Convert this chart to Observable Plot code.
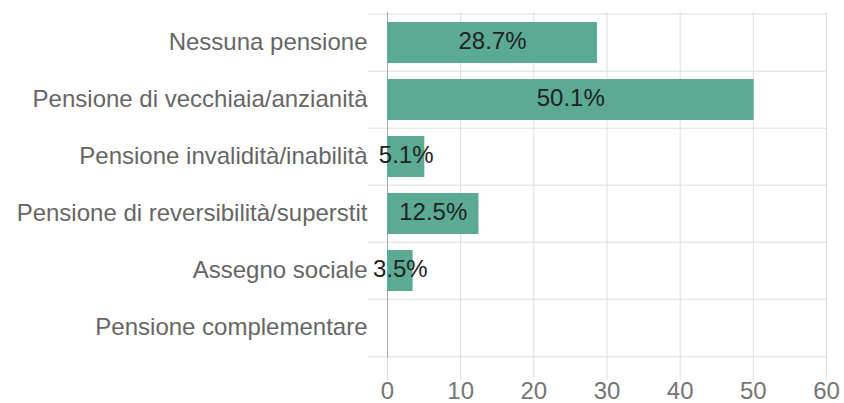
<!DOCTYPE html>
<html>
<head>
<meta charset="utf-8">
<script src="https://cdn.jsdelivr.net/npm/d3@7"></script>
<script src="https://cdn.jsdelivr.net/npm/@observablehq/plot@0.6"></script>
<style>
  html, body { margin: 0; padding: 0; background: #fff; }
</style>
</head>
<body>
<div id="chart"></div>
<script>
const categories = [
  "Nessuna pensione",
  "Pensione di vecchiaia/anzianità",
  "Pensione invalidità/inabilità",
  "Pensione di reversibilità/superstit",
  "Assegno sociale",
  "Pensione complementare"
];
const values = [28.7, 50.1, 5.1, 12.5, 3.5, 0];
const xTicks = [0, 10, 20, 30, 40, 50, 60];

const data = categories.map((c, i) => ({category: c, value: values[i]}));

const W = 844, H = 403;
const mTop = 12, mBottom = 45, mLeft = 387, mRight = 18;
const step = (H - mTop - mBottom) / categories.length;
const gridColor = "#dedede";

const chart = Plot.plot({
  width: W,
  height: H,
  marginTop: mTop,
  marginBottom: mBottom,
  marginLeft: mLeft,
  marginRight: mRight,
  style: {fontFamily: "'Liberation Sans', Arial, sans-serif", background: "#fff"},
  x: {domain: [0, 60], ticks: xTicks},
  y: {domain: categories, paddingInner: 0.28, paddingOuter: 0.14},
  marks: [
    Plot.gridX(xTicks, {stroke: gridColor, strokeOpacity: 1}),
    Plot.axisX({ticks: xTicks, tickSize: 22, text: null, label: null, stroke: gridColor, strokeOpacity: 1}),
    Plot.axisX({ticks: xTicks, tickSize: 0, tickPadding: 23, label: null, fontSize: 24, fill: "#757575"}),
    Plot.ruleY(categories, {y: d => d, dy: -step / 2, stroke: gridColor, insetLeft: -19}),
    Plot.ruleY(categories.slice(-1), {y: d => d, dy: step / 2, stroke: gridColor, insetLeft: -19}),
    Plot.ruleX([0], {stroke: "#a8a8a8"}),
    Plot.axisY({tickSize: 0, tickPadding: 20, label: null, fontSize: 24, fill: "#666", dy: -1}),
    Plot.barX(data, {x: "value", y: "category", fill: "#5aaa94"}),
    Plot.text(data.filter(d => d.value > 0), {
      x: d => d.value / 2,
      y: "category",
      text: d => d.value.toFixed(1) + "%",
      fontSize: 24,
      fill: "#222",
      dy: -2
    })
  ]
});
document.getElementById("chart").appendChild(chart);
</script>
</body>
</html>
